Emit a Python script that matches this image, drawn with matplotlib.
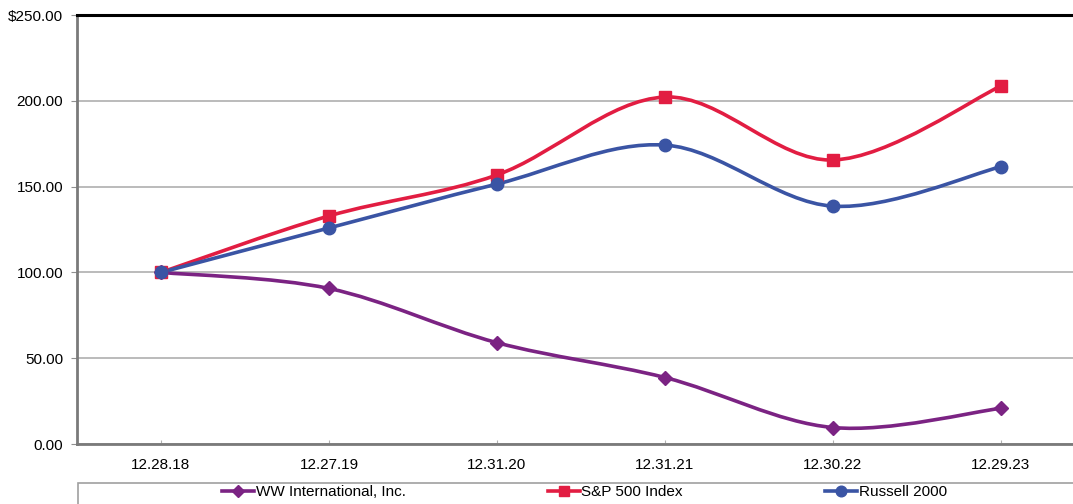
import matplotlib
matplotlib.use("Agg")
import matplotlib.pyplot as plt
import numpy as np
from matplotlib.path import Path
from matplotlib.patches import PathPatch, Rectangle
from matplotlib.lines import Line2D

plt.rcParams['font.family'] = ['Liberation Sans', 'DejaVu Sans']

# data
dates = ["12.28.18", "12.27.19", "12.31.20", "12.31.21", "12.30.22", "12.29.23"]
ww = [100.00, 90.64, 59.04, 38.74, 9.60, 20.81]
sp500 = [100.00, 132.90, 156.80, 202.20, 165.50, 208.60]
russell = [100.00, 125.90, 151.50, 174.20, 138.60, 161.60]
names = ["WW International, Inc.", "S&P 500 Index", "Russell 2000"]
colors = ["#7B2383", "#E21D42", "#3A54A4"]
markers = ["D", "s", "o"]
msizes = [7.5, 8, 9]
yticks = [0, 50, 100, 150, 200, 250]
ylabels = ["0.00", "50.00", "100.00", "150.00", "200.00", "$250.00"]


def smooth_path(xs, ys):
    # catmull-rom style bezier segments, like a spreadsheet "smoothed line"
    pts = np.column_stack([xs, ys]).astype(float)
    n = len(pts)
    verts = [pts[0]]
    codes = [Path.MOVETO]
    for i in range(n - 1):
        p0 = pts[i - 1] if i > 0 else pts[i]
        p1 = pts[i]
        p2 = pts[i + 1]
        p3 = pts[i + 2] if i + 2 < n else pts[i + 1]
        c1 = p1 + (p2 - p0) / 6.0
        c2 = p2 - (p3 - p1) / 6.0
        verts += [c1, c2, p2]
        codes += [Path.CURVE4] * 3
    return Path(verts, codes)


W, H = 1073, 504
fig = plt.figure(figsize=(W / 100, H / 100), dpi=100)
ax = fig.add_axes([77 / W, 1 - 444 / H, (1085 - 77) / W, (444 - 15) / H])

x = np.arange(len(dates))
for vals, c, m, ms in zip([ww, sp500, russell], colors, markers, msizes):
    ax.add_patch(PathPatch(smooth_path(x, vals), facecolor="none", edgecolor=c,
                           lw=2.6, capstyle="round", joinstyle="round", zorder=3))
    ax.plot(x, vals, linestyle="none", marker=m, markersize=ms, color=c,
            markeredgecolor=c, zorder=4)

ax.set_xlim(-0.5, len(dates) - 0.5)
ax.set_ylim(0, 250)
ax.set_xticks(x)
ax.set_xticklabels(dates, fontsize=11)
ax.set_yticks(yticks)
ax.set_yticklabels(ylabels, fontsize=11)
ax.tick_params(axis="x", direction="in", length=3, color="#b0b0b0", pad=10)
ax.tick_params(axis="y", direction="out", length=4, color="#909090", pad=6)
ax.grid(axis="y", color="#b5b5b5", lw=1.3, zorder=1)

ax.spines["top"].set_color("black")
ax.spines["top"].set_linewidth(2.2)
ax.spines["top"].set_zorder(5)
for s in ["left", "bottom"]:
    ax.spines[s].set_color("#7a7a7a")
    ax.spines[s].set_linewidth(2)
ax.spines["right"].set_visible(False)

# legend box below the plot
fig.patches.append(Rectangle((78 / W, -0.1), 1.0, (1 - 483 / H) + 0.1,
                             transform=fig.transFigure, facecolor="white",
                             edgecolor="#a0a0a0", lw=1.2))
handles = [Line2D([], [], color=c, marker=m, markersize=ms * 0.85, lw=2.6)
           for c, m, ms in zip(colors, markers, msizes)]
fig.legend(handles, names, loc="center", bbox_to_anchor=(584.5 / W, 1 - 492.5 / H),
           ncol=3, frameon=False, fontsize=11, handlelength=2.1,
           handletextpad=0.1, columnspacing=9.3, borderpad=0, borderaxespad=0)

fig.savefig("out.png", dpi=100)
